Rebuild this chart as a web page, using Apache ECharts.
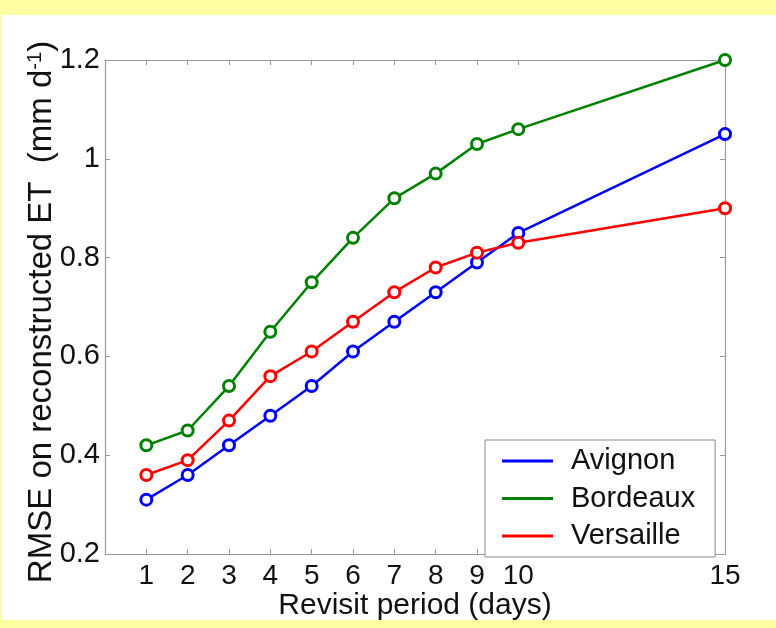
<!DOCTYPE html>
<html><head><meta charset="utf-8">
<script src="https://cdn.jsdelivr.net/npm/echarts@6/dist/echarts.min.js"></script>
<style>html,body{margin:0;padding:0;background:#fff}#c{width:776px;height:628px}</style>
</head><body><div id="c"></div>
<script>
const days = [1, 2, 3, 4, 5, 6, 7, 8, 9, 10, 15];
const avignon = [0.31, 0.36, 0.42, 0.48, 0.54, 0.61, 0.67, 0.73, 0.79, 0.85, 1.05];
const bordeaux = [0.42, 0.45, 0.54, 0.65, 0.75, 0.84, 0.92, 0.97, 1.03, 1.06, 1.20];
const versaille = [0.36, 0.39, 0.47, 0.56, 0.61, 0.67, 0.73, 0.78, 0.81, 0.83, 0.90];
const seriesNames = ['Avignon', 'Bordeaux', 'Versaille'];
const xTicks = [1, 2, 3, 4, 5, 6, 7, 8, 9, 10, 15];
const yTicks = [0.2, 0.4, 0.6, 0.8, 1, 1.2];

const FONT = 'Liberation Sans';
const AX = '#9a9a9a';
const colors = ['#0000ff', '#008000', '#ff0000'];
const values = [avignon, bordeaux, versaille];

const chart = echarts.init(document.getElementById('c'), null, {renderer: 'canvas'});

function xAxisDef(pos, labels) {
  return {
    type: 'value', position: pos, min: 0, max: 15,
    axisLine: {show: true, onZero: false, lineStyle: {color: AX, width: 1.2}},
    axisTick: {show: true, inside: true, length: 5, customValues: xTicks, lineStyle: {color: AX}},
    axisLabel: {show: labels, customValues: xTicks, fontFamily: FONT, fontSize: 28, color: '#111', margin: 8},
    splitLine: {show: false},
    name: labels ? 'Revisit period (days)' : '',
    nameLocation: 'middle', nameGap: 37, nameMoveOverlap: false,
    nameTextStyle: {fontFamily: FONT, fontSize: 30, color: '#111'}
  };
}
function yAxisDef(pos, labels) {
  return {
    type: 'value', position: pos, min: 0.2, max: 1.2, interval: 0.2,
    axisLine: {show: true, onZero: false, lineStyle: {color: AX, width: 1.2}},
    axisTick: {show: true, inside: true, length: 5, customValues: yTicks, lineStyle: {color: AX}},
    axisLabel: {show: labels, customValues: yTicks, fontFamily: FONT, fontSize: 29, color: '#111', margin: 5,
      formatter: v => String(Math.round(v * 10) / 10)},
    splitLine: {show: false},
    name: labels ? 'RMSE on reconstructed ET  (mm d{sup|-1})' : '',
    nameLocation: 'middle', nameGap: 47, nameRotate: 90, nameMoveOverlap: false,
    nameTextStyle: {fontFamily: FONT, fontSize: 33, color: '#111', padding: [0, 10, 0, 0],
      rich: {sup: {fontFamily: FONT, fontSize: 20, color: '#111', verticalAlign: 'top', padding: [0, 0, 12, 0]}}}
  };
}

chart.setOption({
  backgroundColor: '#ffffff',
  animation: false,
  graphic: [
    {type: 'rect', shape: {x: 0, y: 0, width: 776, height: 15}, style: {fill: '#fffca1'}, silent: true},
    {type: 'rect', shape: {x: 0, y: 620, width: 776, height: 8}, style: {fill: '#fffca1'}, silent: true},
    {type: 'rect', shape: {x: 0, y: 0, width: 2, height: 628}, style: {fill: '#fffca1'}, silent: true}
  ],
  grid: {left: 105, right: 51, top: 60, bottom: 74, containLabel: false},
  xAxis: [xAxisDef('bottom', true), xAxisDef('top', false)],
  yAxis: [yAxisDef('left', true), yAxisDef('right', false)],
  legend: {
    orient: 'vertical', left: 485, top: 440,
    data: seriesNames.map((n, i) => ({name: n, itemStyle: {color: colors[i], borderWidth: 0}})),
    backgroundColor: '#fff', borderColor: '#8a8a8a', borderWidth: 1,
    padding: [6.5, 20, 6.5, 17],
    itemGap: 8.5, itemWidth: 51, itemHeight: 3, icon: 'rect',
    textStyle: {fontFamily: FONT, fontSize: 29, color: '#111', lineHeight: 25, padding: [0, 0, 0, 13]}
  },
  series: seriesNames.map((name, i) => ({
    name: name, type: 'line', xAxisIndex: 0, yAxisIndex: 0,
    data: days.map((d, j) => [d, values[i][j]]),
    symbol: 'circle', symbolSize: 11,
    lineStyle: {color: colors[i], width: 2.5},
    itemStyle: {color: '#fff', borderColor: colors[i], borderWidth: 3},
    emphasis: {disabled: true}
  }))
});
</script></body></html>
